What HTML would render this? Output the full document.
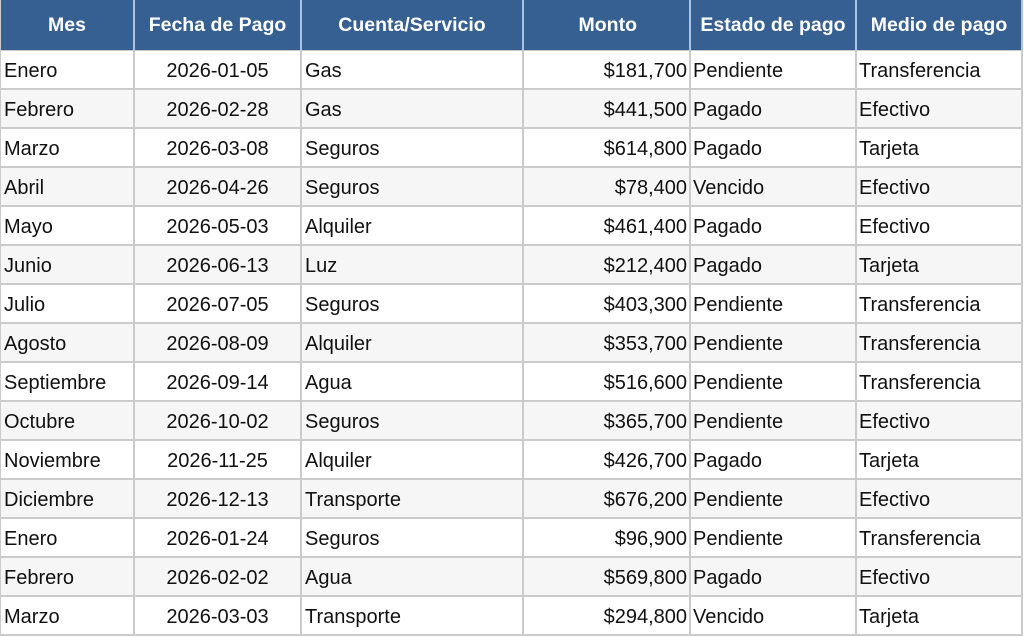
<!DOCTYPE html>
<html><head><meta charset="utf-8">
<style>
html,body{margin:0;padding:0;background:#fff;}
body{width:1024px;height:637px;overflow:hidden;position:relative;font-family:"Liberation Sans",Arial,sans-serif;}
table{position:absolute;left:0;top:0;border-collapse:separate;border-spacing:0;table-layout:fixed;width:1023px;}
td,th{box-sizing:border-box;padding:0;white-space:nowrap;overflow:hidden;border-right:2px solid #cbcbcb;border-bottom:2px solid #cbcbcb;font-size:20px;color:#111;}
th{background:#366092;color:#fff;font-weight:bold;font-size:19.5px;height:51px;text-align:center;border-right:2px solid #a9c4e4;border-bottom:1px solid #cbcbcb;padding-top:1px;}
td{height:39px;padding-top:3px;}
tr.g td{background:#f6f6f6;}
td:first-child,th:first-child{border-left:1px solid #cbcbcb;}
.l{text-align:left;padding-left:3px;}
.c{text-align:center;}
.r{text-align:right;padding-right:2px;}
.e{text-align:left;padding-left:2px;}
</style></head><body>
<table>
<colgroup><col style="width:135px"><col style="width:167px"><col style="width:222px"><col style="width:167px"><col style="width:166px"><col style="width:166px"></colgroup>
<tr><th>Mes</th><th>Fecha de Pago</th><th>Cuenta/Servicio</th><th style="text-align:right;padding-right:52px">Monto</th><th>Estado de pago</th><th>Medio de pago</th></tr>
<tr><td class="l">Enero</td><td class="c">2026-01-05</td><td class="l">Gas</td><td class="r">$181,700</td><td class="e">Pendiente</td><td class="e">Transferencia</td></tr>
<tr class="g"><td class="l">Febrero</td><td class="c">2026-02-28</td><td class="l">Gas</td><td class="r">$441,500</td><td class="e">Pagado</td><td class="e">Efectivo</td></tr>
<tr><td class="l">Marzo</td><td class="c">2026-03-08</td><td class="l">Seguros</td><td class="r">$614,800</td><td class="e">Pagado</td><td class="e">Tarjeta</td></tr>
<tr class="g"><td class="l">Abril</td><td class="c">2026-04-26</td><td class="l">Seguros</td><td class="r">$78,400</td><td class="e">Vencido</td><td class="e">Efectivo</td></tr>
<tr><td class="l">Mayo</td><td class="c">2026-05-03</td><td class="l">Alquiler</td><td class="r">$461,400</td><td class="e">Pagado</td><td class="e">Efectivo</td></tr>
<tr class="g"><td class="l">Junio</td><td class="c">2026-06-13</td><td class="l">Luz</td><td class="r">$212,400</td><td class="e">Pagado</td><td class="e">Tarjeta</td></tr>
<tr><td class="l">Julio</td><td class="c">2026-07-05</td><td class="l">Seguros</td><td class="r">$403,300</td><td class="e">Pendiente</td><td class="e">Transferencia</td></tr>
<tr class="g"><td class="l">Agosto</td><td class="c">2026-08-09</td><td class="l">Alquiler</td><td class="r">$353,700</td><td class="e">Pendiente</td><td class="e">Transferencia</td></tr>
<tr><td class="l">Septiembre</td><td class="c">2026-09-14</td><td class="l">Agua</td><td class="r">$516,600</td><td class="e">Pendiente</td><td class="e">Transferencia</td></tr>
<tr class="g"><td class="l">Octubre</td><td class="c">2026-10-02</td><td class="l">Seguros</td><td class="r">$365,700</td><td class="e">Pendiente</td><td class="e">Efectivo</td></tr>
<tr><td class="l">Noviembre</td><td class="c">2026-11-25</td><td class="l">Alquiler</td><td class="r">$426,700</td><td class="e">Pagado</td><td class="e">Tarjeta</td></tr>
<tr class="g"><td class="l">Diciembre</td><td class="c">2026-12-13</td><td class="l">Transporte</td><td class="r">$676,200</td><td class="e">Pendiente</td><td class="e">Efectivo</td></tr>
<tr><td class="l">Enero</td><td class="c">2026-01-24</td><td class="l">Seguros</td><td class="r">$96,900</td><td class="e">Pendiente</td><td class="e">Transferencia</td></tr>
<tr class="g"><td class="l">Febrero</td><td class="c">2026-02-02</td><td class="l">Agua</td><td class="r">$569,800</td><td class="e">Pagado</td><td class="e">Efectivo</td></tr>
<tr><td class="l">Marzo</td><td class="c">2026-03-03</td><td class="l">Transporte</td><td class="r">$294,800</td><td class="e">Vencido</td><td class="e">Tarjeta</td></tr>
</table>
</body></html>
